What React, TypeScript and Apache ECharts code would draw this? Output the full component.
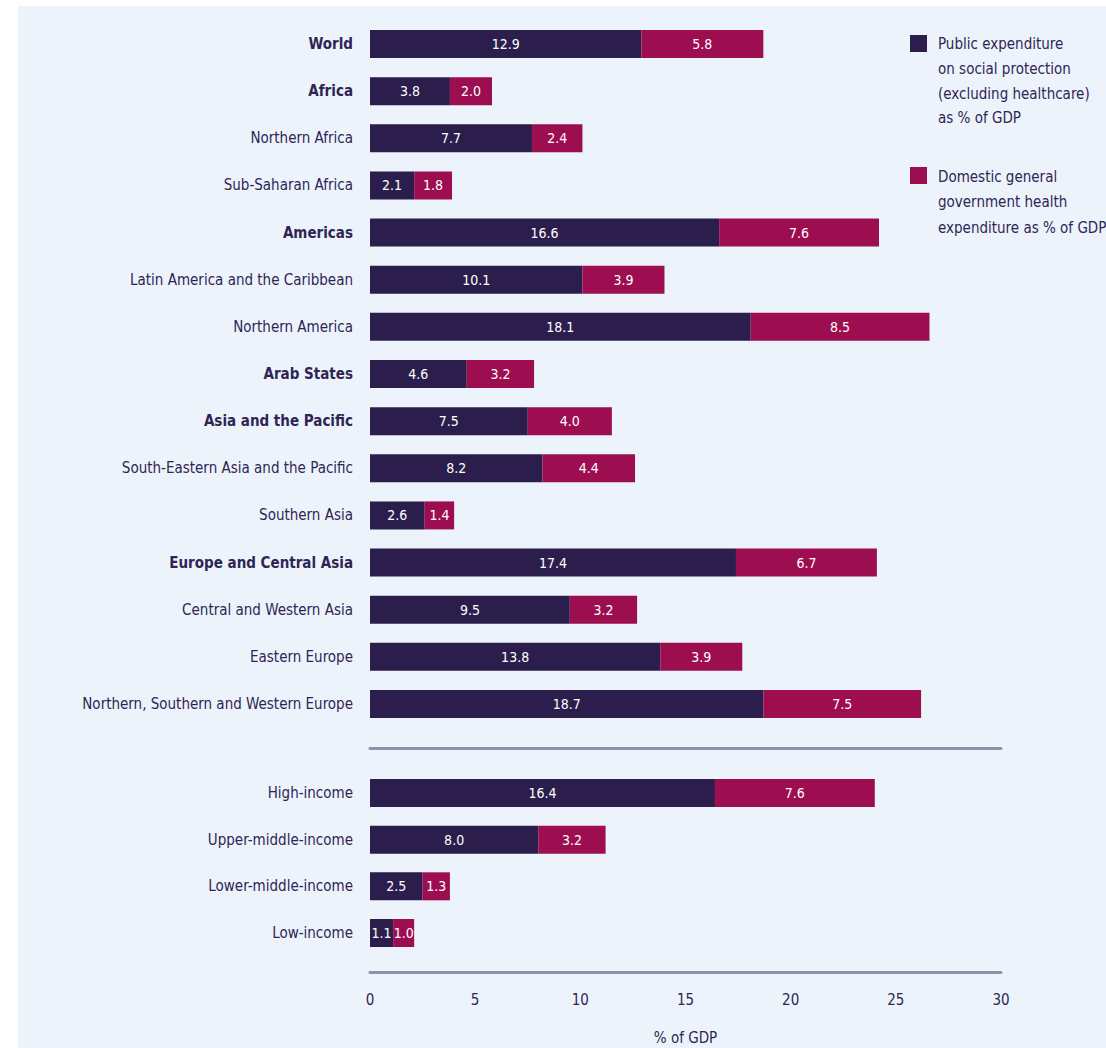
import React, { useEffect, useRef } from "react";
import * as echarts from "echarts";

const regionCategories = [
  "World",
  "Africa",
  "Northern Africa",
  "Sub-Saharan Africa",
  "Americas",
  "Latin America and the Caribbean",
  "Northern America",
  "Arab States",
  "Asia and the Pacific",
  "South-Eastern Asia and the Pacific",
  "Southern Asia",
  "Europe and Central Asia",
  "Central and Western Asia",
  "Eastern Europe",
  "Northern, Southern and Western Europe",
];
const regionSocial = [12.9, 3.8, 7.7, 2.1, 16.6, 10.1, 18.1, 4.6, 7.5, 8.2, 2.6, 17.4, 9.5, 13.8, 18.7];
const regionHealth = [5.8, 2.0, 2.4, 1.8, 7.6, 3.9, 8.5, 3.2, 4.0, 4.4, 1.4, 6.7, 3.2, 3.9, 7.5];

const incomeCategories = ["High-income", "Upper-middle-income", "Lower-middle-income", "Low-income"];
const incomeSocial = [16.4, 8.0, 2.5, 1.1];
const incomeHealth = [7.6, 3.2, 1.3, 1.0];

const boldCategories = ["World", "Africa", "Americas", "Arab States", "Asia and the Pacific", "Europe and Central Asia"];

const xTicks = [0, 5, 10, 15, 20, 25, 30];
const xAxisName = "% of GDP";

const legendSocial = ["Public expenditure", "on social protection", "(excluding healthcare)", "as % of GDP"];
const legendHealth = ["Domestic general", "government health", "expenditure as % of GDP"];

const NAVY = "#2c1e4c";
const MAGENTA = "#9d0e50";
const TEXT = "#2f2555";
const FONT = "'Liberation Sans Narrow', 'DejaVu Sans Condensed', sans-serif";

export default function App() {
  const ref = useRef<HTMLDivElement>(null);

  useEffect(() => {
    if (!ref.current) return;
    const chart = echarts.init(ref.current, undefined, { renderer: "svg" });

    const catLabel = {
      color: TEXT,
      fontFamily: FONT,
      fontSize: 15,
      margin: 17,
      formatter: (v: string) => (boldCategories.includes(v) ? `{b|${v}}` : `{n|${v}}`),
      rich: {
        b: { fontWeight: "bold", color: TEXT, fontFamily: FONT, fontSize: 15 },
        n: { color: TEXT, fontFamily: FONT, fontSize: 15 },
      },
    };

    const valueLabel = {
      show: true,
      position: "inside",
      color: "#ffffff",
      fontFamily: FONT,
      fontSize: 14,
      formatter: (p: any) => Number(p.value).toFixed(1),
    };

    const rowH1 = (704 - 44) / 14;
    const top1 = 44 - rowH1 / 2;
    const h1 = rowH1 * regionCategories.length;
    const rowH2 = (933 - 793) / 3;
    const top2 = 793 - rowH2 / 2;
    const h2 = rowH2 * incomeCategories.length;

    const baseX = {
      type: "value",
      min: 0,
      max: 30,
      interval: 5,
      splitLine: { show: false },
      axisTick: { show: false },
    };

    chart.setOption({
      animation: false,
      backgroundColor: "#ffffff",
      grid: [
        { left: 370, width: 631, top: top1, height: h1 },
        { left: 370, width: 631, top: top2, height: h2 },
      ],
      xAxis: [
        {
          ...baseX,
          gridIndex: 0,
          position: "bottom",
          offset: 748 - (top1 + h1),
          axisLine: { show: true, lineStyle: { color: "#8a93a8", width: 3 } },
          axisLabel: { show: false },
        },
        {
          ...baseX,
          gridIndex: 1,
          position: "bottom",
          offset: 972 - (top2 + h2),
          axisLine: { show: true, lineStyle: { color: "#8a93a8", width: 3 } },
          axisLabel: {
            show: true,
            color: TEXT,
            fontFamily: FONT,
            fontSize: 15,
            margin: 20,
            customValues: xTicks,
          },
          name: xAxisName,
          nameLocation: "middle",
          nameGap: 58,
          nameTextStyle: { color: TEXT, fontFamily: FONT, fontSize: 15 },
        },
      ],
      yAxis: [
        {
          type: "category",
          gridIndex: 0,
          inverse: true,
          data: regionCategories,
          axisLine: { show: false },
          axisTick: { show: false },
          axisLabel: catLabel,
        },
        {
          type: "category",
          gridIndex: 1,
          inverse: true,
          data: incomeCategories,
          axisLine: { show: false },
          axisTick: { show: false },
          axisLabel: catLabel,
        },
      ],
      series: [
        {
          type: "bar",
          name: legendSocial.join(" "),
          xAxisIndex: 0,
          yAxisIndex: 0,
          stack: "r",
          barWidth: 28,
          data: regionSocial,
          itemStyle: { color: NAVY },
          label: valueLabel,
        },
        {
          type: "bar",
          name: legendHealth.join(" "),
          xAxisIndex: 0,
          yAxisIndex: 0,
          stack: "r",
          barWidth: 28,
          data: regionHealth,
          itemStyle: { color: MAGENTA },
          label: valueLabel,
        },
        {
          type: "bar",
          name: legendSocial.join(" "),
          xAxisIndex: 1,
          yAxisIndex: 1,
          stack: "i",
          barWidth: 28,
          data: incomeSocial,
          itemStyle: { color: NAVY },
          label: valueLabel,
        },
        {
          type: "bar",
          name: legendHealth.join(" "),
          xAxisIndex: 1,
          yAxisIndex: 1,
          stack: "i",
          barWidth: 28,
          data: incomeHealth,
          itemStyle: { color: MAGENTA },
          label: valueLabel,
        },
      ],
      graphic: [
        {
          type: "rect",
          z: -10,
          silent: true,
          shape: { x: 18, y: 6, width: 1088, height: 1042 },
          style: { fill: "#ecf3fb" },
        },
        {
          type: "rect",
          shape: { x: 910, y: 35, width: 17, height: 17 },
          style: { fill: NAVY },
        },
        {
          type: "text",
          x: 938,
          y: 32,
          style: {
            text: legendSocial.join("\n"),
            fill: TEXT,
            font: `15px ${FONT}`,
            lineHeight: 24.7,
          },
        },
        {
          type: "rect",
          shape: { x: 910, y: 167, width: 17, height: 17 },
          style: { fill: MAGENTA },
        },
        {
          type: "text",
          x: 938,
          y: 164,
          style: {
            text: legendHealth.join("\n"),
            fill: TEXT,
            font: `15px ${FONT}`,
            lineHeight: 25.5,
          },
        },
      ],
    });

    return () => chart.dispose();
  }, []);

  return (
    <div
      ref={ref}
      style={{ position: "absolute", left: 0, top: 0, width: 1106, height: 1048 }}
    />
  );
}
